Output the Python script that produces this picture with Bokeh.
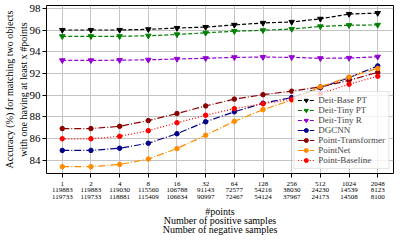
from bokeh.plotting import figure
from bokeh.models import Range1d, FixedTicker, Legend, LegendItem, LinearAxis
from bokeh.embed import file_html
from bokeh.resources import INLINE

# ---- data ----
points = ["1", "2", "4", "8", "16", "32", "64", "128", "256", "512", "1024", "2048"]
positive = ["119883", "119883", "119030", "115560", "106788", "91143",
            "72577", "54216", "38030", "24230", "14539", "8123"]
negative = ["119733", "119733", "118881", "115409", "106634", "90997",
            "72467", "54124", "37967", "24173", "14508", "8100"]

deit_base_pt = [96.0, 96.0, 96.0, 96.06, 96.18, 96.27, 96.47, 96.65, 96.74, 97.03, 97.47, 97.56]
deit_tiny_pt = [95.42, 95.42, 95.42, 95.47, 95.59, 95.74, 95.89, 95.97, 96.09, 96.33, 96.44, 96.47]
deit_tiny_r = [93.2, 93.2, 93.22, 93.25, 93.33, 93.39, 93.48, 93.5, 93.48, 93.39, 93.42, 93.53]
dgcnn = [84.9, 84.9, 85.1, 85.56, 86.44, 87.54, 88.46, 89.25, 89.77, 90.68, 91.6, 92.69]
point_transformer = [86.91, 86.91, 87.12, 87.65, 88.3, 89.0, 89.63, 90.04, 90.36, 90.75, 91.36, 92.1]
pointnet = [83.4, 83.4, 83.6, 84.1, 85.07, 86.3, 87.58, 88.66, 89.54, 90.77, 91.66, 92.46]
point_baseline = [85.97, 85.97, 86.2, 86.72, 87.45, 88.14, 88.75, 89.2, 89.6, 90.13, 91.0, 91.74]

y_ticks = [84, 86, 88, 90, 92, 94, 96, 98]
x_title = "#points\nNumber of positive samples\nNumber of negative samples"
y_title_1 = "Accuracy (%) for matching two objects"
y_title_2 = "with one having at least x #points"

series = [
    ("Deit-Base PT", deit_base_pt, "black", "4 2", "inverted_triangle"),
    ("Deit-Tiny PT", deit_tiny_pt, "green", "4 2", "inverted_triangle"),
    ("Deit-Tiny R", deit_tiny_r, "darkviolet", "4 2", "inverted_triangle"),
    ("DGCNN", dgcnn, "darkblue", "7 2 1 2", "circle"),
    ("Point-Transformer", point_transformer, "darkred", "7 2 1 2", "circle"),
    ("PointNet", pointnet, "darkorange", "7 2 1 2", "circle"),
    ("Point-Baseline", point_baseline, "red", "1 2", "circle"),
]

FONT = "Liberation Serif"

p = figure(width=399, height=237, output_backend="svg", toolbar_location=None,
           x_range=Range1d(-0.55, 11.55), y_range=Range1d(82.77, 98.26),
           min_border_left=20, min_border_right=6, min_border_top=5,
           min_border_bottom=20)
p.outline_line_color = "black"
p.outline_line_width = 1
p.outline_line_alpha = 1

xs = list(range(len(points)))
items = []
for name, vals, color, dash, marker in series:
    r1 = p.line(xs, vals, line_color=color, line_width=1.2, line_dash=dash)
    r2 = p.scatter(xs, vals, marker=marker, size=5.5 if marker != "circle" else 4.5,
                   fill_color=color, line_color=color)
    items.append(LegendItem(label=name, renderers=[r1, r2]))

# axes
p.xaxis.ticker = FixedTicker(ticks=xs)
p.xaxis.major_label_overrides = {i: f"{points[i]}\n{positive[i]}\n{negative[i]}" for i in xs}
p.yaxis.ticker = FixedTicker(ticks=y_ticks)
for ax in (p.xaxis, p.yaxis):
    ax.axis_line_color = None
    ax.major_tick_line_color = "black"
    ax.major_tick_out = 4
    ax.major_tick_in = 0
    ax.minor_tick_line_color = None
    ax.major_label_text_font = FONT
    ax.major_label_text_color = "black"
    ax.axis_label_text_font = FONT
    ax.axis_label_text_font_style = "normal"
    ax.axis_label_text_color = "black"
p.xaxis.major_label_standoff = 2
p.yaxis.major_label_standoff = 2
p.xaxis.axis_label_standoff = 2
p.yaxis.axis_label_standoff = -2
p.xaxis.major_label_text_font_size = "7px"
p.xaxis.major_label_text_line_height = 0.85
p.yaxis.major_label_text_font_size = "11px"

p.xaxis.axis_label = x_title
p.xaxis.axis_label_text_font_size = "10px"
p.xaxis.axis_label_text_line_height = 0.8
p.yaxis.axis_label = y_title_2
p.yaxis.axis_label_text_font_size = "10px"

# outer (first) line of the y title on an empty companion axis
y_outer = LinearAxis(ticker=FixedTicker(ticks=[]), axis_label=y_title_1,
                     axis_line_color=None, major_tick_line_color=None,
                     minor_tick_line_color=None, major_label_text_font_size="0px",
                     major_label_standoff=0, axis_label_standoff=0,
                     axis_label_text_font=FONT, axis_label_text_font_size="10px",
                     axis_label_text_font_style="normal", axis_label_text_color="black")
p.add_layout(y_outer, "left")

p.xgrid.grid_line_color = "#c4c4c4"
p.ygrid.grid_line_color = "#c4c4c4"
p.xgrid.grid_line_width = 1
p.ygrid.grid_line_width = 1

legend = Legend(items=items, location="bottom_right")
legend.label_text_font = FONT
legend.label_text_font_size = "9px"
legend.glyph_width = 17
legend.glyph_height = 10
legend.label_height = 10
legend.label_standoff = 4
legend.padding = 3
legend.spacing = 0
legend.margin = 4
legend.border_line_color = "#cccccc"
legend.background_fill_alpha = 0.8
p.add_layout(legend)

open("out.html", "w").write(file_html(p, INLINE))
